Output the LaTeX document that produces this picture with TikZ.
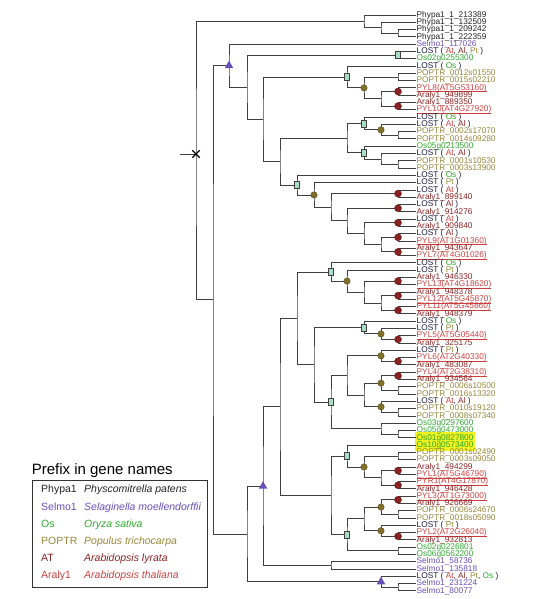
\documentclass[tikz,border=0pt]{standalone}
\usepackage{fontspec}
\setmainfont{Liberation Sans}
\usepackage{tikz}
\usetikzlibrary{calc,fit,backgrounds,shapes.geometric,shapes.misc}
\definecolor{tphy}{RGB}{35,35,35}
\definecolor{tsel}{RGB}{104,78,184}
\definecolor{tos}{RGB}{46,168,46}
\definecolor{tpop}{RGB}{150,134,58}
\definecolor{tat}{RGB}{206,62,62}
\definecolor{tal}{RGB}{138,34,34}
\definecolor{tlost}{RGB}{28,28,64}
\definecolor{tmint}{RGB}{168,222,192}
\definecolor{tolive}{RGB}{128,112,42}
\definecolor{thl}{RGB}{240,242,30}

\newcommand\spAt{\textcolor{tat}{At}}
\newcommand\spAl{\textcolor{tal}{Al}}
\newcommand\spPt{\textcolor{tpop}{Pt}}
\newcommand\spOs{\textcolor{tos}{Os}}
\newcommand\lost[1]{LOST ( #1 )}
\newcommand\pyl[1]{\underline{\smash{#1}}}
% bracket joining two children at a given x
\newcommand\joinat[4]{%
  \path ($(#3)!.5!(#4)$) coordinate (#1m);
  \coordinate (#1) at (#2,0 |- #1m);
  \draw[branch] (#3) -| (#1) |- (#4);
}

\begin{document}
\begin{tikzpicture}[
    x=1pt, y=-1pt,
    branch/.style={draw=black!75, line width=0.9pt},
    leaf/.style={anchor=west, inner sep=0.5pt, text height=6pt, text depth=1.6pt,
                 font=\fontsize{8.3}{8.3}\selectfont},
    phy/.style={leaf, text=tphy}, sel/.style={leaf, text=tsel}, os/.style={leaf, text=tos},
    pop/.style={leaf, text=tpop}, ara/.style={leaf, text=tal}, pyl/.style={leaf, text=tat},
    lost/.style={leaf, text=tlost},
    dupmk/.style={draw=black!75, fill=tmint, line width=0.6pt, minimum width=4.5pt,
                  minimum height=7pt, inner sep=0pt},
    popmk/.style={circle, draw=tolive!70!black, fill=tolive, minimum size=6.5pt, inner sep=0pt},
    aramk/.style={circle, draw=tal!70!black, fill=tal, minimum size=7pt, inner sep=0pt},
    selmk/.style={regular polygon, regular polygon sides=3, fill=tsel, minimum size=10pt, inner sep=0pt},
    rootmk/.style={cross out, draw=black, line width=1.3pt, minimum size=6pt, inner sep=0pt},
    hlbox/.style={fill=thl, inner sep=1pt},
    legbox/.style={draw=black!80, line width=0.8pt, minimum width=175, minimum height=107},
    legpre/.style={anchor=west, inner sep=0pt, text height=7.5pt, text depth=2pt,
                   font=\fontsize{10.5}{10.5}\selectfont},
    legsp/.style={legpre, font=\fontsize{10.5}{10.5}\selectfont\itshape},
]
\useasboundingbox (0,0) rectangle (533,599);

% ---------- leaves ----------
\foreach \i in {1,...,80} \coordinate (y\i) at (416,{15+(\i-1)*7.29});

\node[phy]  (l1)  at (y1)  {Phypa1\_1\_213389};
\node[phy]  (l2)  at (y2)  {Phypa1\_1\_132509};
\node[phy]  (l3)  at (y3)  {Phypa1\_1\_209242};
\node[phy]  (l4)  at (y4)  {Phypa1\_1\_222359};
\node[sel]  (l5)  at (y5)  {Selmo1\_117026};
\node[lost] (l6)  at (y6)  {\lost{\spAt, \spAl, \spPt}};
\node[os]   (l7)  at (y7)  {Os02g0255300};
\node[lost] (l8)  at (y8)  {\lost{\spOs}};
\node[pop]  (l9)  at (y9)  {POPTR\_0012s01550};
\node[pop]  (l10) at (y10) {POPTR\_0015s02210};
\node[pyl]  (l11) at (y11) {\pyl{PYL8(AT5G53160)}};
\node[ara]  (l12) at (y12) {Araly1\_949899};
\node[ara]  (l13) at (y13) {Araly1\_889350};
\node[pyl]  (l14) at (y14) {\pyl{PYL10(AT4G27920)}};
\node[lost] (l15) at (y15) {\lost{\spOs}};
\node[lost] (l16) at (y16) {\lost{\spAt, \spAl}};
\node[pop]  (l17) at (y17) {POPTR\_0002s17070};
\node[pop]  (l18) at (y18) {POPTR\_0014s09280};
\node[os]   (l19) at (y19) {Os05g0213500};
\node[lost] (l20) at (y20) {\lost{\spAt, \spAl}};
\node[pop]  (l21) at (y21) {POPTR\_0001s10530};
\node[pop]  (l22) at (y22) {POPTR\_0003s13900};
\node[lost] (l23) at (y23) {\lost{\spOs}};
\node[lost] (l24) at (y24) {\lost{\spPt}};
\node[lost] (l25) at (y25) {\lost{\spAt}};
\node[ara]  (l26) at (y26) {Araly1\_899140};
\node[lost] (l27) at (y27) {\lost{\spAl}};
\node[ara]  (l28) at (y28) {Araly1\_914276};
\node[lost] (l29) at (y29) {\lost{\spAt}};
\node[ara]  (l30) at (y30) {Araly1\_909840};
\node[lost] (l31) at (y31) {\lost{\spAl}};
\node[pyl]  (l32) at (y32) {\pyl{PYL9(AT1G01360)}};
\node[ara]  (l33) at (y33) {Araly1\_943647};
\node[pyl]  (l34) at (y34) {\pyl{PYL7(AT4G01026)}};
\node[lost] (l35) at (y35) {\lost{\spOs}};
\node[lost] (l36) at (y36) {\lost{\spPt}};
\node[ara]  (l37) at (y37) {Araly1\_946330};
\node[pyl]  (l38) at (y38) {\pyl{PYL13(AT4G18620)}};
\node[ara]  (l39) at (y39) {Araly1\_948378};
\node[pyl]  (l40) at (y40) {\pyl{PYL12(AT5G45870)}};
\node[pyl]  (l41) at (y41) {\pyl{PYL11(AT5G45860)}};
\node[ara]  (l42) at (y42) {Araly1\_948379};
\node[lost] (l43) at (y43) {\lost{\spOs}};
\node[lost] (l44) at (y44) {\lost{\spPt}};
\node[pyl]  (l45) at (y45) {\pyl{PYL5(AT5G05440)}};
\node[ara]  (l46) at (y46) {Araly1\_325175};
\node[lost] (l47) at (y47) {\lost{\spPt}};
\node[pyl]  (l48) at (y48) {\pyl{PYL6(AT2G40330)}};
\node[ara]  (l49) at (y49) {Araly1\_483087};
\node[pyl]  (l50) at (y50) {\pyl{PYL4(AT2G38310)}};
\node[ara]  (l51) at (y51) {Araly1\_934564};
\node[pop]  (l52) at (y52) {POPTR\_0006s10500};
\node[pop]  (l53) at (y53) {POPTR\_0016s13320};
\node[lost] (l54) at (y54) {\lost{\spAt, \spAl}};
\node[pop]  (l55) at (y55) {POPTR\_0010s19120};
\node[pop]  (l56) at (y56) {POPTR\_0008s07340};
\node[os]   (l57) at (y57) {Os03g0297600};
\node[os]   (l58) at (y58) {Os05g0473000};
\node[os]   (l59) at (y59) {Os01g0827800};
\node[os]   (l60) at (y60) {Os10g0573400};
\node[pop]  (l61) at (y61) {POPTR\_0001s02490};
\node[pop]  (l62) at (y62) {POPTR\_0003s09050};
\node[ara]  (l63) at (y63) {Araly1\_494299};
\node[pyl]  (l64) at (y64) {\pyl{PYL1(AT5G46790)}};
\node[pyl]  (l65) at (y65) {\pyl{PYR1(AT4G17870)}};
\node[ara]  (l66) at (y66) {Araly1\_946428};
\node[pyl]  (l67) at (y67) {\pyl{PYL3(AT1G73000)}};
\node[ara]  (l68) at (y68) {Araly1\_926669};
\node[pop]  (l69) at (y69) {POPTR\_0006s24670};
\node[pop]  (l70) at (y70) {POPTR\_0018s05090};
\node[lost] (l71) at (y71) {\lost{\spPt}};
\node[pyl]  (l72) at (y72) {\pyl{PYL2(AT2G26040)}};
\node[ara]  (l73) at (y73) {Araly1\_932813};
\node[os]   (l74) at (y74) {Os02g0226801};
\node[os]   (l75) at (y75) {Os06g0562200};
\node[sel]  (l76) at (y76) {Selmo1\_58736};
\node[sel]  (l77) at (y77) {Selmo1\_135818};
\node[lost] (l78) at (y78) {\lost{\spAt, \spAl, \spPt, \spOs}};
\node[sel]  (l79) at (y79) {Selmo1\_231224};
\node[sel]  (l80) at (y80) {Selmo1\_80077};

\begin{scope}[on background layer]
  \node[hlbox, fit=(l59)(l60)] (hl) {};
\end{scope}

% ---------- Phypa1 clade ----------
\joinat{ph3}{398}{l3.west}{l4.west}
\joinat{ph2}{381}{l2.west}{ph3}
\joinat{ph1}{364}{l1.west}{ph2}

% ---------- upper clade ----------
\joinat{d1}{398}{l6.west}{l7.west}
\joinat{a1}{398}{l9.west}{l10.west}
\joinat{r1}{398}{l11.west}{l12.west}
\joinat{r2}{398}{l13.west}{l14.west}
\joinat{a2}{381}{r1}{r2}
\joinat{o1}{364}{a1}{a2}
\joinat{d2}{347}{l8.west}{o1}
\joinat{a3}{398}{l17.west}{l18.west}
\joinat{o2}{381}{l16.west}{a3}
\joinat{d3}{364}{l15.west}{o2}
\joinat{a4}{398}{l21.west}{l22.west}
\joinat{a5}{381}{l20.west}{a4}
\joinat{d4}{364}{l19.west}{a5}
\joinat{a6}{347}{d3}{d4}
\joinat{r3}{398}{l25.west}{l26.west}
\joinat{r4}{398}{l27.west}{l28.west}
\joinat{r5}{398}{l29.west}{l30.west}
\joinat{r6}{398}{l31.west}{l32.west}
\joinat{r7}{398}{l33.west}{l34.west}
\joinat{a7}{381}{r6}{r7}
\joinat{a8}{364}{r5}{a7}
\joinat{a9}{347}{r4}{a8}
\joinat{a10}{331}{r3}{a9}
\joinat{o3}{314}{l24.west}{a10}
\joinat{d5}{297}{l23.west}{o3}
\joinat{a11}{280}{a6}{d5}
\joinat{a12}{263}{d2}{a11}
\joinat{a13}{247}{d1}{a12}
\joinat{t1}{229}{l5.west}{a13}

% ---------- lower clade ----------
\joinat{r8}{398}{l37.west}{l38.west}
\joinat{r9}{398}{l39.west}{l40.west}
\joinat{r10}{398}{l41.west}{l42.west}
\joinat{a14}{381}{r9}{r10}
\joinat{a15}{364}{r8}{a14}
\joinat{o4}{347}{l36.west}{a15}
\joinat{d6}{331}{l35.west}{o4}
\joinat{r11}{398}{l45.west}{l46.west}
\joinat{o5}{381}{l44.west}{r11}
\joinat{d7}{364}{l43.west}{o5}
\joinat{r12}{398}{l48.west}{l49.west}
\joinat{o6}{381}{l47.west}{r12}
\joinat{r13}{398}{l50.west}{l51.west}
\joinat{a16}{398}{l52.west}{l53.west}
\joinat{o7}{381}{r13}{a16}
\joinat{a17}{398}{l55.west}{l56.west}
\joinat{o8}{381}{l54.west}{a17}
\joinat{a18}{364}{o7}{o8}
\joinat{a19}{347}{o6}{a18}
\joinat{a20}{398}{l58.west}{l59.west}
\joinat{a21}{381}{l57.west}{a20}
\joinat{d8}{331}{a19}{a21}
\joinat{a22}{314}{d7}{d8}
\joinat{a23}{297}{d6}{a22}
\joinat{a24}{398}{l61.west}{l62.west}
\joinat{r14}{398}{l63.west}{l64.west}
\joinat{r15}{398}{l65.west}{l66.west}
\joinat{a25}{381}{r14}{r15}
\joinat{o9}{364}{a24}{a25}
\joinat{d9}{347}{l60.west}{o9}
\joinat{r16}{398}{l67.west}{l68.west}
\joinat{a26}{398}{l69.west}{l70.west}
\joinat{o10}{381}{r16}{a26}
\joinat{r17}{398}{l72.west}{l73.west}
\joinat{o11}{381}{l71.west}{r17}
\joinat{a27}{364}{o10}{o11}
\joinat{a28}{398}{l74.west}{l75.west}
\joinat{d10}{347}{a27}{a28}
\joinat{a29}{331}{d9}{d10}
\joinat{a30}{280}{a23}{a29}
\joinat{a31}{331}{l76.west}{l77.west}
\joinat{t2}{263}{a30}{a31}
\joinat{a32}{398}{l79.west}{l80.west}
\joinat{t3}{381}{l78.west}{a32}
\joinat{a33}{247}{t2}{t3}
\joinat{a34}{213}{t1}{a33}

% ---------- root ----------
\coordinate (root) at (196,154);
\coordinate (stem) at (180,154);
\draw[branch] (ph1) -| (root) |- (a34);
\draw[branch] (stem) -- (root);

% ---------- event marks ----------
\foreach \i in {1,...,10} \node[dupmk] (mkd\i) at (d\i) {};
\foreach \i in {1,...,11} \node[popmk] (mko\i) at (o\i) {};
\foreach \i in {1,...,17} \node[aramk] (mkr\i) at (r\i) {};
\foreach \i in {1,2,3} \node[selmk] (mkt\i) at (t\i) {};
\node[rootmk] (mkroot) at (root) {};

% ---------- legend ----------
\node[legbox] (legend) at (119.5,533.5) {};
\node[anchor=south west, inner sep=0pt, font=\fontsize{15}{15}\selectfont]
  (legtitle) at ([yshift=2pt]legend.north west) {Prefix in gene names};
\foreach \pre/\sp/\col [count=\k] in {Phypa1/Physcomitrella patens/tphy,
    Selmo1/Selaginella moellendorffii/tsel, Os/Oryza sativa/tos,
    POPTR/Populus trichocarpa/tpop, AT/Arabidopsis lyrata/tal,
    Araly1/Arabidopsis thaliana/tat}{
  \node[legpre, text=\col] (pre\k) at (41,{473+17.2*\k}) {\pre};
  \node[legsp, text=\col]  (sp\k)  at (84,{473+17.2*\k}) {\sp};
}

\end{tikzpicture}
\end{document}
